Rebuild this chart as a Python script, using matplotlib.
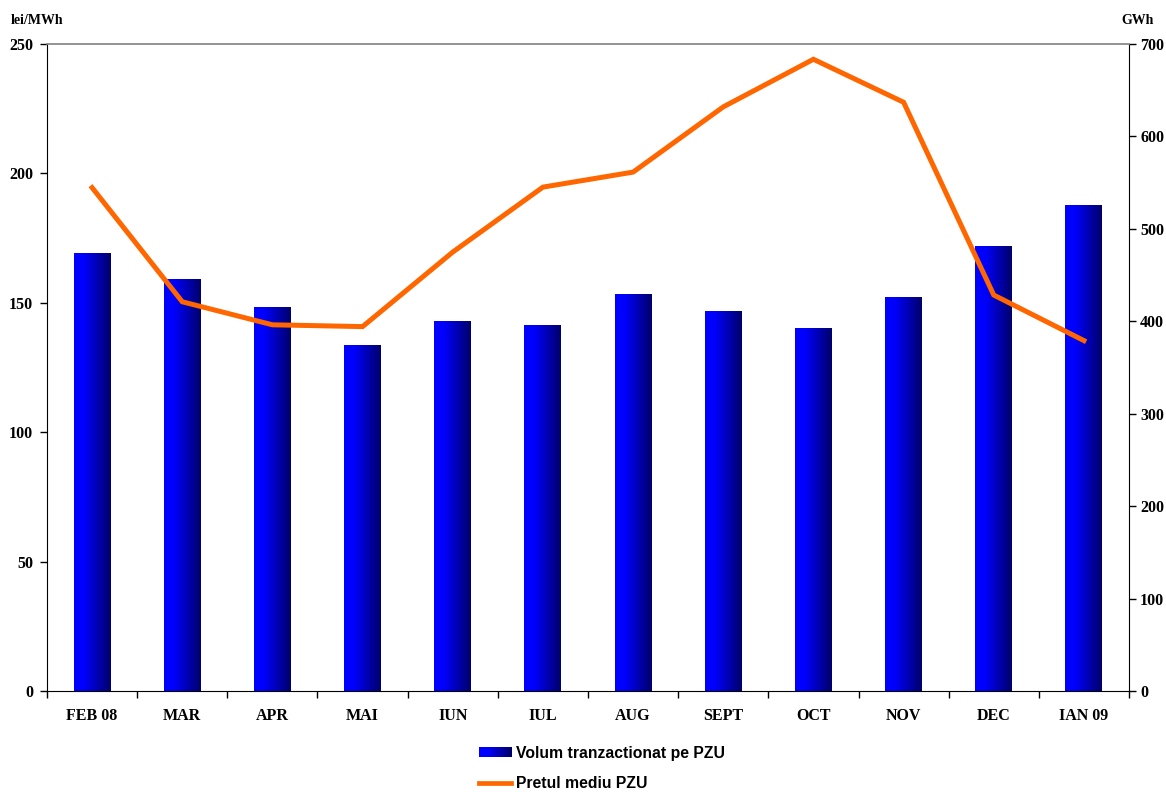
import matplotlib
matplotlib.use("Agg")
import matplotlib.pyplot as plt
import numpy as np
from matplotlib.colors import LinearSegmentedColormap
from matplotlib.legend_handler import HandlerBase
from matplotlib.patches import Rectangle
from matplotlib.lines import Line2D

months = ["FEB 08", "MAR", "APR", "MAI", "IUN", "IUL", "AUG", "SEPT", "OCT", "NOV", "DEC", "IAN 09"]
volume_gwh = [472.8, 445.7, 414.4, 373.3, 400.3, 394.9, 429.5, 411.0, 392.7, 425.2, 480.4, 525.8]
price_lei = [194.5, 150.4, 141.5, 140.8, 169.6, 194.7, 200.5, 225.7, 244.1, 227.5, 153.0, 135.4]
left_ticks = [0, 50, 100, 150, 200, 250]
right_ticks = [0, 100, 200, 300, 400, 500, 600, 700]

bar_label = "Volum tranzactionat pe PZU"
line_label = "Pretul mediu PZU"

W, H = 1166, 792
fig = plt.figure(figsize=(W / 100, H / 100), dpi=100)
L, R, B, T = 47 / W, 1129 / W, 1 - 691 / H, 1 - 44 / H
ax2 = fig.add_axes([L, B, R - L, T - B])  # bars, right axis (GWh)
ax = fig.add_axes([L, B, R - L, T - B], sharex=ax2)  # line, left axis (lei/MWh)
ax.set_zorder(ax2.get_zorder() + 1)
ax.patch.set_visible(False)

cmap = LinearSegmentedColormap.from_list("barg", [(0, "#0000FF"), (0.26, "#0000FF"), (1, "#00006A")])
grad = np.linspace(0, 1, 256).reshape(1, -1)

x = np.arange(len(months))
bw = 0.41
bars = ax2.bar(x, volume_gwh, width=bw, color="none", edgecolor="none")
for b in bars:
    x0, y0 = b.get_x(), b.get_y()
    ax2.imshow(grad, cmap=cmap, aspect="auto", interpolation="bilinear",
               extent=(x0, x0 + b.get_width(), y0, y0 + b.get_height()), zorder=2)

ax.plot(x, price_lei, color="#FF6600", lw=3.6, solid_joinstyle="miter", zorder=3)

ax2.set_xlim(-0.5, len(months) - 0.5)
ax2.set_ylim(0, 700)
ax.set_ylim(0, 250)

serif = ["Liberation Serif", "DejaVu Serif"]
tfont = dict(family=serif, weight="bold", size=11.5)

# left axis (price)
ax.yaxis.tick_left()
ax.set_yticks(left_ticks)
ax.set_yticklabels([str(v) for v in left_ticks], fontdict=tfont)
ax.tick_params(axis="y", direction="out", length=5, width=1, color="#000000", pad=5)

# right axis (volume)
ax2.yaxis.tick_right()
ax2.set_yticks(right_ticks)
ax2.set_yticklabels([str(v) for v in right_ticks], fontdict=tfont)
ax2.tick_params(axis="y", direction="out", length=5, width=1, color="#000000", pad=3)

# x axis
ax.set_xticks(x)
ax.set_xticklabels(months, fontdict=tfont)
ax.set_xticks(np.arange(-0.5, len(months)), minor=True)
ax.tick_params(axis="x", which="major", length=0, pad=12)
ax.tick_params(axis="x", which="minor", direction="out", length=5, width=1, color="#000000")
ax2.tick_params(axis="x", which="both", length=0, labelbottom=False)

for a in (ax, ax2):
    for s in a.spines.values():
        s.set_visible(False)
ax.spines["left"].set_visible(True)
ax.spines["left"].set_color("#000000")
ax.spines["bottom"].set_visible(True)
ax.spines["bottom"].set_color("#000000")
ax.spines["top"].set_visible(True)
ax.spines["top"].set_color("#808080")
ax.spines["top"].set_linewidth(1.2)
ax2.spines["right"].set_visible(True)
ax2.spines["right"].set_color("#000000")

fig.text(11 / W, 1 - 20 / H, "lei/MWh", family=serif, weight="bold", size=10,
         ha="left", va="center")
fig.text(1137.5 / W, 1 - 20 / H, "GWh", family=serif, weight="bold", size=10,
         ha="center", va="center")


class GradientHandler(HandlerBase):
    def create_artists(self, legend, orig_handle, xdescent, ydescent, width, height, fontsize, trans):
        n = 30
        arts = []
        for i in range(n):
            c = cmap((i + 0.5) / n)
            r = Rectangle((-xdescent + width * i / n, -ydescent), width / n + 0.3, height,
                          facecolor=c, edgecolor="none", transform=trans)
            arts.append(r)
        return arts


bar_handle = Rectangle((0, 0), 1, 1)
line_handle = Line2D([], [], color="#FF6600", lw=3.4)
leg = fig.legend([bar_handle, line_handle], [bar_label, line_label],
                 handler_map={Rectangle: GradientHandler()},
                 loc="upper left", bbox_to_anchor=(479 / W, 1 - 746 / H),
                 frameon=False, borderpad=0, borderaxespad=0,
                 handlelength=2.05, handleheight=0.6, handletextpad=0.3, labelspacing=0.95,
                 prop=dict(family=["Liberation Sans", "DejaVu Sans"], weight="bold", size=11.3))

fig.savefig("out.png", dpi=100)
